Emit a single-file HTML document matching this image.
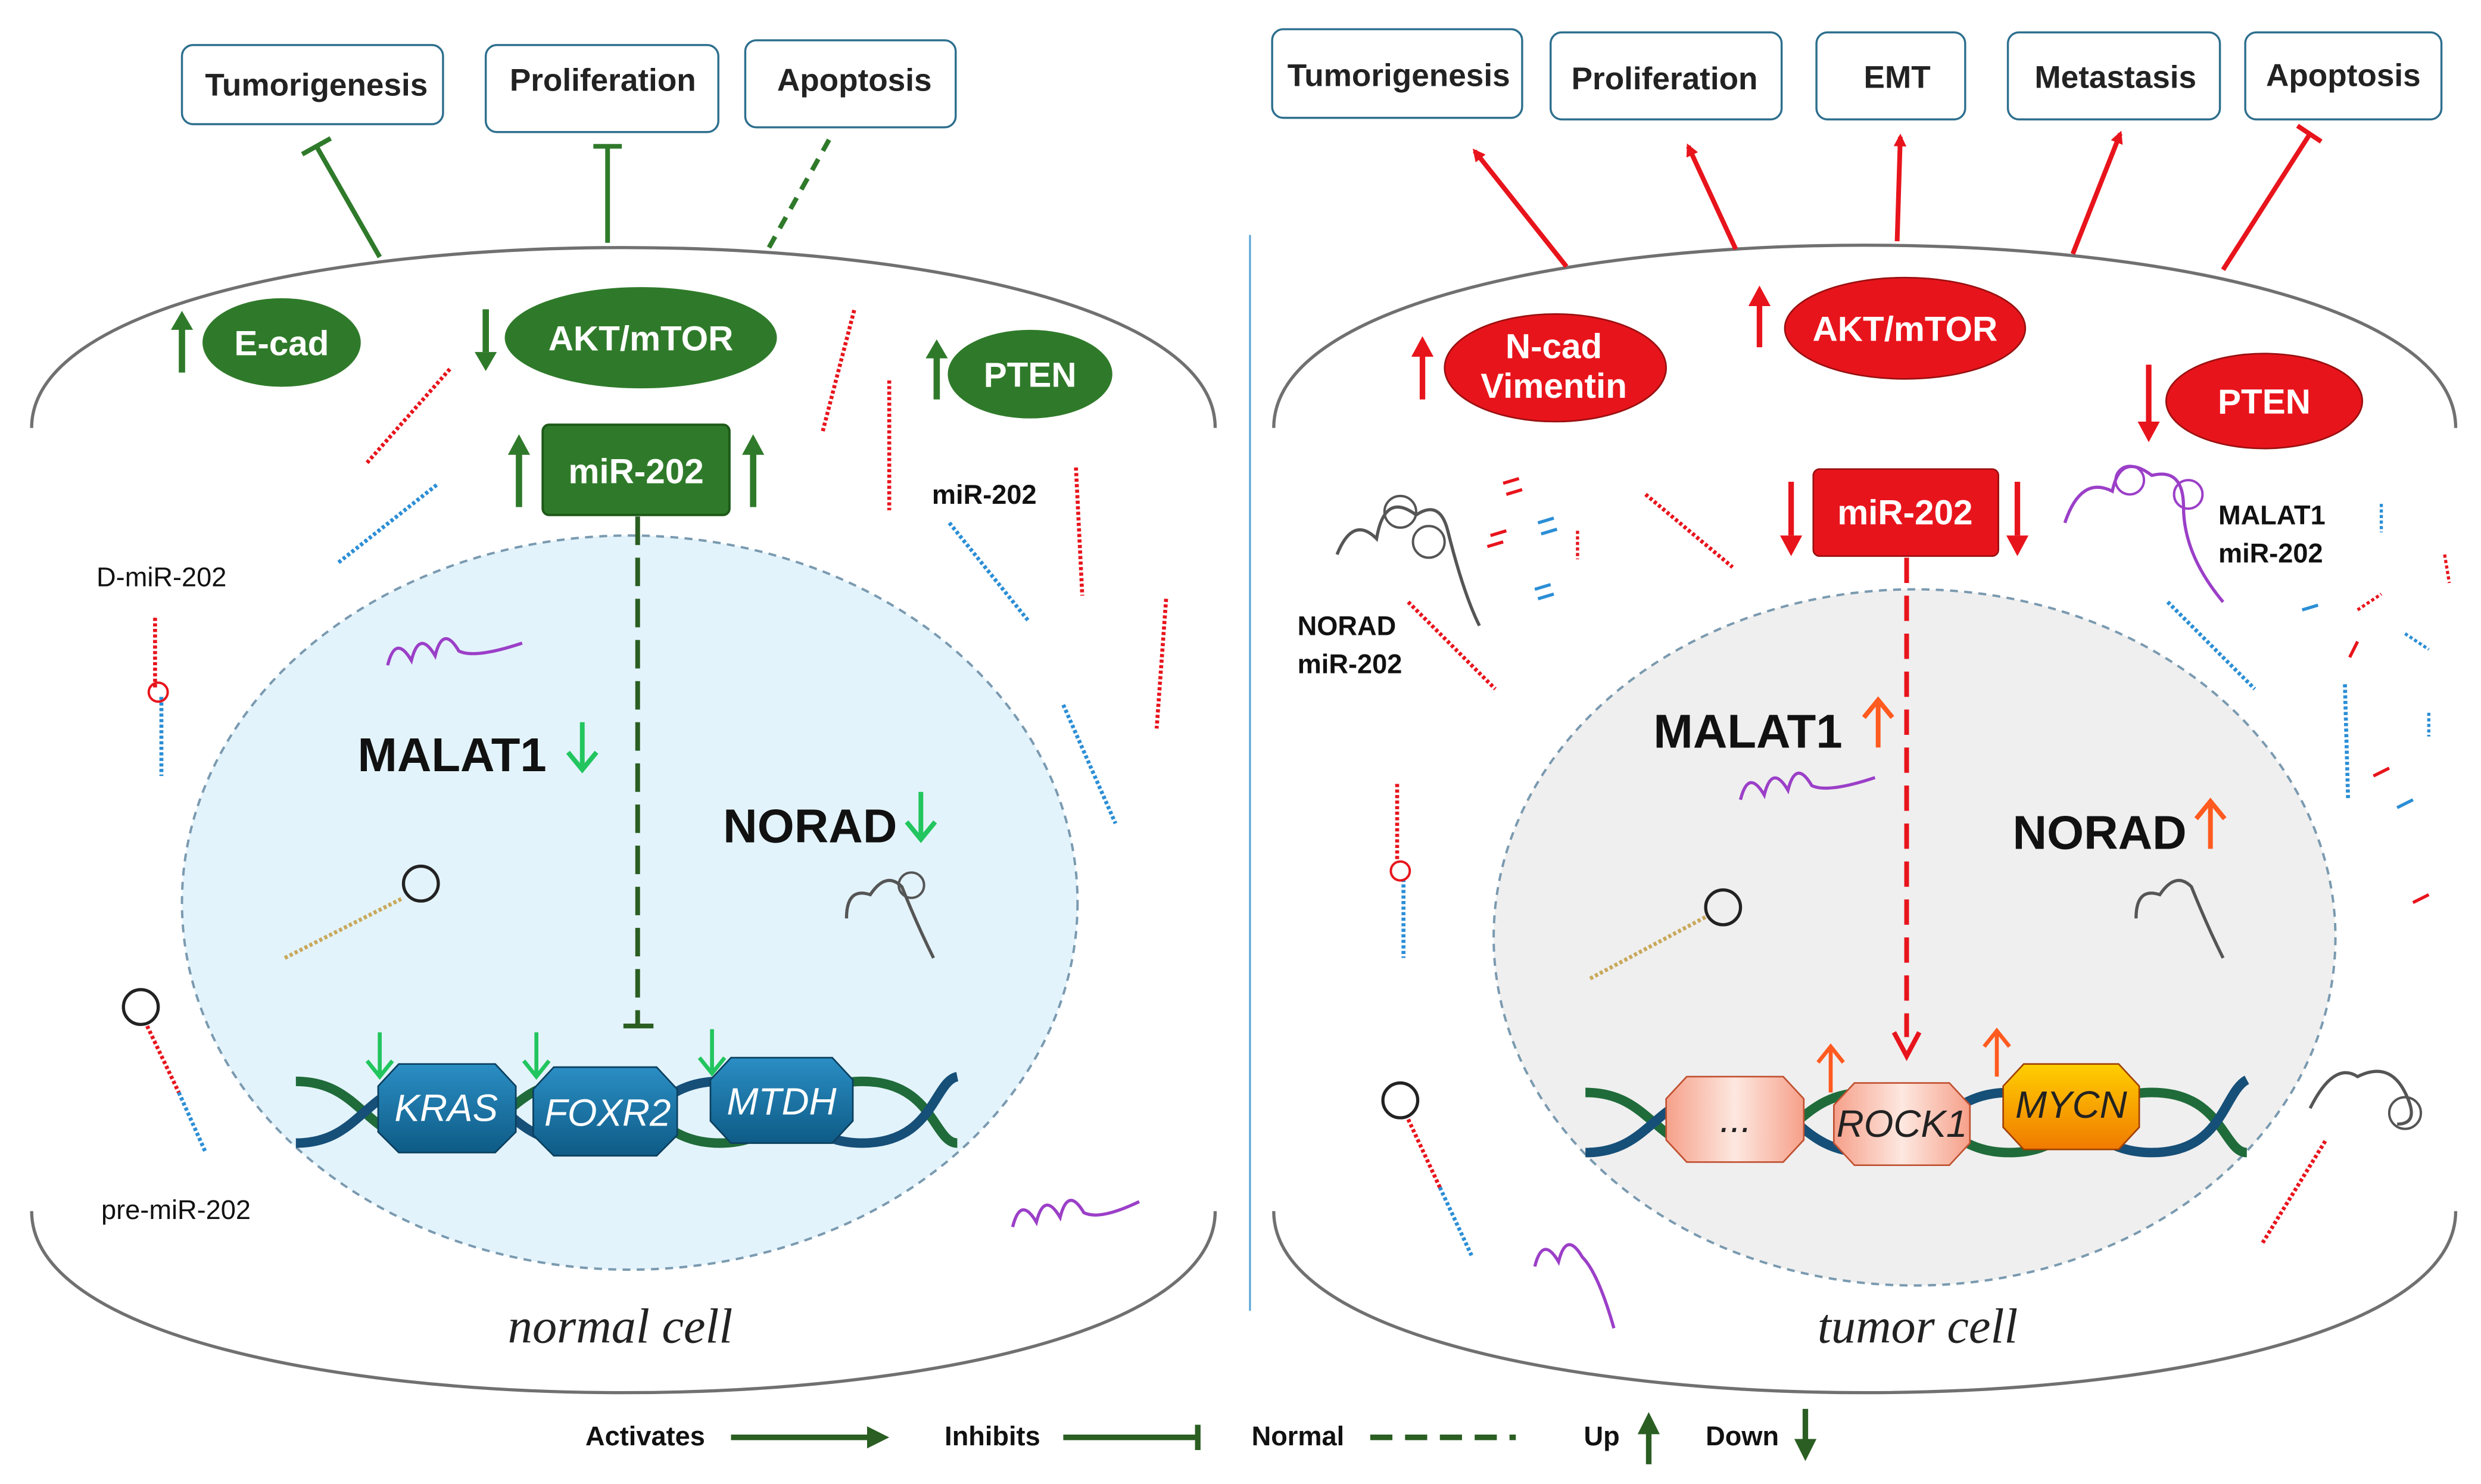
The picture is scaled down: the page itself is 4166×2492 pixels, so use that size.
<!DOCTYPE html>
<html><head><meta charset="utf-8"><style>
html,body{margin:0;padding:0;background:#fff;}
svg{display:block;}
text{font-family:"Liberation Sans",sans-serif;}
text.serif{font-family:"Liberation Serif",serif;}
</style></head><body>
<svg width="4166" height="2492" viewBox="0 0 1568 937" xmlns="http://www.w3.org/2000/svg">
<defs>
<marker id="ar" markerWidth="8" markerHeight="8" refX="6" refY="4" orient="auto" markerUnits="userSpaceOnUse"><path d="M0,0 L8,4 L0,8 z" fill="#e8141c"/></marker>
<linearGradient id="pk" x1="0" x2="1"><stop offset="0" stop-color="#f6a08a"/><stop offset="0.5" stop-color="#fde8e0"/><stop offset="1" stop-color="#f6a08a"/></linearGradient>
<linearGradient id="yo" x1="0" y1="0" x2="0" y2="1"><stop offset="0" stop-color="#ffcf00"/><stop offset="1" stop-color="#f07a00"/></linearGradient>
<linearGradient id="bl" x1="0" y1="0" x2="0" y2="1"><stop offset="0" stop-color="#2b8ec4"/><stop offset="1" stop-color="#0e5b86"/></linearGradient>
</defs>

<line x1="790" y1="148" x2="790" y2="828" stroke="#5aa6d6" stroke-width="1.2"/>

<path d="M20,270 C20,118 768,118 768,270" fill="none" stroke="#707070" stroke-width="2"/>
<path d="M20,765 C20,918 768,918 768,765" fill="none" stroke="#707070" stroke-width="2"/>
<ellipse cx="398" cy="570" rx="283" ry="232" fill="#e3f3fb" stroke="#7a9ab0" stroke-width="1.5" stroke-dasharray="5,4"/>

<path d="M805,270 C805,116 1552,116 1552,270" fill="none" stroke="#707070" stroke-width="2"/>
<path d="M805,765 C805,918 1552,918 1552,765" fill="none" stroke="#707070" stroke-width="2"/>
<ellipse cx="1210" cy="592" rx="266" ry="220" fill="#efefef" stroke="#7a9ab0" stroke-width="1.5" stroke-dasharray="5,4"/>

<g fill="#fff" stroke="#2e6f8e" stroke-width="1.3">
<rect x="115" y="28" width="165" height="50" rx="7"/><rect x="307" y="28" width="147" height="55" rx="7"/><rect x="471" y="25" width="133" height="55" rx="7"/>
<rect x="804" y="18" width="158" height="56" rx="7"/><rect x="980" y="20" width="146" height="55" rx="7"/><rect x="1148" y="20" width="94" height="55" rx="7"/><rect x="1269" y="20" width="134" height="55" rx="7"/><rect x="1419" y="20" width="124" height="55" rx="7"/>
</g>
<g fill="#222" font-weight="bold" font-size="20" text-anchor="middle">
<text x="200" y="60">Tumorigenesis</text><text x="381" y="57">Proliferation</text><text x="540" y="57">Apoptosis</text>
<text x="884" y="54">Tumorigenesis</text><text x="1052" y="56">Proliferation</text><text x="1199" y="55">EMT</text><text x="1337" y="55">Metastasis</text><text x="1481" y="54">Apoptosis</text>
</g>

<g stroke="#2f7a2a" stroke-width="3" fill="none">
<line x1="240" y1="162" x2="200" y2="92"/><line x1="191" y1="97" x2="209" y2="87"/>
<line x1="384" y1="153" x2="384" y2="92"/><line x1="375" y1="92" x2="393" y2="92"/>
<line x1="486" y1="156" x2="525" y2="86" stroke-dasharray="8,6"/>
</g>
<g stroke="#e8141c" stroke-width="3" fill="none">
<line x1="990" y1="168" x2="932" y2="95" marker-end="url(#ar)"/>
<line x1="1097" y1="157" x2="1067" y2="92" marker-end="url(#ar)"/>
<line x1="1199" y1="152" x2="1201" y2="86" marker-end="url(#ar)"/>
<line x1="1310" y1="160" x2="1340" y2="84" marker-end="url(#ar)"/>
<line x1="1405" y1="170" x2="1460" y2="84"/><line x1="1452" y1="79" x2="1467" y2="89"/>
</g>

<g fill="#2f7a2a"><ellipse cx="178" cy="216" rx="50" ry="28"/><ellipse cx="405" cy="213" rx="86" ry="32"/><ellipse cx="651" cy="236" rx="52" ry="28"/>
<rect x="343" y="268" width="118" height="57" rx="4" stroke="#1d5a18" stroke-width="1.5"/></g>
<g fill="#fff" font-weight="bold" font-size="22" text-anchor="middle"><text x="178" y="224">E-cad</text><text x="405" y="221">AKT/mTOR</text><text x="651" y="244">PTEN</text><text x="402" y="305">miR-202</text></g>
<g stroke="#2f7a2a" stroke-width="4" fill="#2f7a2a">
<line x1="115" y1="235" x2="115" y2="207"/><path d="M108,208 L115,196 L122,208z" stroke="none"/>
<line x1="307" y1="195" x2="307" y2="222"/><path d="M300,222 L307,234 L314,222z" stroke="none"/>
<line x1="592" y1="252" x2="592" y2="225"/><path d="M585,226 L592,214 L599,226z" stroke="none"/>
<line x1="328" y1="320" x2="328" y2="286"/><path d="M321,287 L328,274 L335,287z" stroke="none"/>
<line x1="476" y1="320" x2="476" y2="286"/><path d="M469,287 L476,274 L483,287z" stroke="none"/>
</g>
<line x1="403" y1="326" x2="403" y2="648" stroke="#2a5e22" stroke-width="3" stroke-dasharray="18,8"/>
<line x1="394" y1="648" x2="413" y2="648" stroke="#2a5e22" stroke-width="3"/>

<g fill="#e8141c" stroke="#9a1010" stroke-width="1"><ellipse cx="983" cy="232" rx="70" ry="34"/><ellipse cx="1204" cy="207" rx="76" ry="32"/><ellipse cx="1431" cy="253" rx="62" ry="30"/>
<rect x="1146" y="296" width="117" height="55" rx="4"/></g>
<g fill="#fff" font-weight="bold" font-size="22" text-anchor="middle"><text x="982" y="226">N-cad</text><text x="982" y="251">Vimentin</text><text x="1204" y="215">AKT/mTOR</text><text x="1431" y="261">PTEN</text><text x="1204" y="331">miR-202</text></g>
<g stroke="#e8141c" stroke-width="3.5" fill="#e8141c">
<line x1="899" y1="252" x2="899" y2="224"/><path d="M892,225 L899,212 L906,225z" stroke="none"/>
<line x1="1112" y1="219" x2="1112" y2="192"/><path d="M1105,193 L1112,180 L1119,193z" stroke="none"/>
<line x1="1358" y1="230" x2="1358" y2="266"/><path d="M1351,266 L1358,279 L1365,266z" stroke="none"/>
<line x1="1132" y1="304" x2="1132" y2="338"/><path d="M1125,338 L1132,351 L1139,338z" stroke="none"/>
<line x1="1275" y1="304" x2="1275" y2="338"/><path d="M1268,338 L1275,351 L1282,338z" stroke="none"/>
</g>
<line x1="1205" y1="352" x2="1205" y2="655" stroke="#e8141c" stroke-width="3" stroke-dasharray="16,8"/>
<path d="M1197,652 L1205,667 L1213,652" fill="none" stroke="#e8141c" stroke-width="3"/>

<g fill="none" stroke-width="6">
<path d="M187,683 C230,683 230,722 275,722 S320,683 365,683 S410,722 455,722 S500,683 545,683 S590,722 605,722" stroke="#1f6b3a"/>
<path d="M187,722 C230,722 230,683 275,683 S320,722 365,722 S410,683 455,683 S500,722 545,722 S590,683 605,680" stroke="#164f78"/>
</g>
<g fill="url(#bl)" stroke="#0b3f5e" stroke-width="1">
<polygon points="252,672 313,672 326,686 326,715 313,728 252,728 239,715 239,686"/>
<polygon points="350,674 415,674 428,688 428,717 415,730 350,730 337,717 337,688"/>
<polygon points="462,668 526,668 539,682 539,708 526,722 462,722 449,708 449,682"/>
</g>
<g fill="#fff" font-style="italic" font-size="24" text-anchor="middle"><text x="282" y="708">KRAS</text><text x="384" y="711">FOXR2</text><text x="494" y="704">MTDH</text></g>
<g stroke="#22c55e" stroke-width="2.5" fill="none">
<path d="M240,652 V678 M232,670 L240,680 L248,670"/><path d="M339,652 V678 M331,670 L339,680 L347,670"/><path d="M450,650 V676 M442,668 L450,678 L458,668"/>
</g>

<g fill="none" stroke-width="6">
<path d="M1002,690 C1045,690 1045,728 1090,728 S1135,690 1180,690 S1225,728 1270,728 S1315,690 1360,690 S1405,728 1420,728" stroke="#1f6b3a"/>
<path d="M1002,728 C1045,728 1045,690 1090,690 S1135,728 1180,728 S1225,690 1270,690 S1315,728 1360,728 S1405,690 1420,682" stroke="#164f78"/>
</g>
<polygon points="1066,680 1127,680 1140,694 1140,720 1127,734 1066,734 1053,720 1053,694" fill="url(#pk)" stroke="#c05030"/>
<polygon points="1172,684 1232,684 1245,698 1245,722 1232,736 1172,736 1159,722 1159,698" fill="url(#pk)" stroke="#c05030"/>
<polygon points="1279,672 1339,672 1352,686 1352,712 1339,726 1279,726 1266,712 1266,686" fill="url(#yo)" stroke="#a04000"/>
<g font-style="italic" font-size="24" text-anchor="middle" fill="#222"><text x="1097" y="715">...</text><text x="1202" y="718">ROCK1</text><text x="1309" y="706">MYCN</text></g>
<g stroke="#ff5a1f" stroke-width="2.5" fill="none">
<path d="M1157,690 V662 M1149,671 L1157,661 L1165,671"/><path d="M1262,680 V652 M1254,661 L1262,651 L1270,661"/>
</g>

<g font-size="30" fill="#111" font-weight="bold">
<text x="226" y="487">MALAT1</text><text x="457" y="532">NORAD</text>
<text x="1045" y="472">MALAT1</text><text x="1272" y="536">NORAD</text>
</g>
<g stroke="#22c55e" stroke-width="3" fill="none"><path d="M368,456 V484 M359,475 L368,486 L377,475"/><path d="M582,500 V528 M573,519 L582,530 L591,519"/></g>
<g stroke="#ff5a1f" stroke-width="3" fill="none"><path d="M1187,472 V444 M1178,453 L1187,442 L1196,453"/><path d="M1397,536 V508 M1388,517 L1397,506 L1406,517"/></g>

<g font-size="17" fill="#111">
<text x="61" y="370">D-miR-202</text><text x="64" y="770">pre-miR-202</text><text x="589" y="318" font-weight="bold">miR-202</text>
<text x="820" y="401" font-weight="bold">NORAD</text><text x="820" y="425" font-weight="bold">miR-202</text>
<text x="1402" y="331" font-weight="bold">MALAT1</text><text x="1402" y="355" font-weight="bold">miR-202</text>
</g>
<g font-style="italic" font-size="31" fill="#222" text-anchor="middle">
<text class="serif" x="392" y="848">normal cell</text><text class="serif" x="1212" y="848">tumor cell</text></g>

<g fill="none" stroke-width="2.5">
<line x1="232" y1="292" x2="285" y2="232" stroke="#e8141c" stroke-dasharray="2,1.5"/>
<line x1="214" y1="355" x2="276" y2="306" stroke="#2b8ed6" stroke-dasharray="2,1.5"/>
<line x1="520" y1="272" x2="540" y2="195" stroke="#e8141c" stroke-dasharray="2,1.5"/>
<line x1="562" y1="240" x2="562" y2="322" stroke="#e8141c" stroke-dasharray="2,1.5"/>
<line x1="600" y1="330" x2="650" y2="392" stroke="#2b8ed6" stroke-dasharray="2,1.5"/>
<line x1="680" y1="295" x2="684" y2="376" stroke="#e8141c" stroke-dasharray="2,1.5"/>
<line x1="737" y1="378" x2="731" y2="460" stroke="#e8141c" stroke-dasharray="2,1.5"/>
<line x1="672" y1="445" x2="705" y2="520" stroke="#2b8ed6" stroke-dasharray="2,1.5"/>
<line x1="98" y1="390" x2="98" y2="435" stroke="#e8141c" stroke-dasharray="2,1.5"/>
<line x1="102" y1="440" x2="102" y2="490" stroke="#2b8ed6" stroke-dasharray="2,1.5"/>
<circle cx="100" cy="437" r="6" stroke="#e8141c" stroke-width="1.5"/>
<circle cx="89" cy="636" r="11" stroke="#222" stroke-width="2"/>
<line x1="93" y1="648" x2="113" y2="690" stroke="#e8141c" stroke-dasharray="2,1.5"/>
<line x1="113" y1="690" x2="130" y2="728" stroke="#2b8ed6" stroke-dasharray="2,1.5"/>
<line x1="180" y1="605" x2="255" y2="567" stroke="#c9a85a" stroke-dasharray="2,1.5"/>
<circle cx="266" cy="558" r="11" stroke="#222" stroke-width="2"/>
<path d="M245,420 q5,-20 15,-3 q5,-20 15,-3 q5,-20 15,-3 q10,5 40,-5" stroke="#9b3fc8" stroke-width="2"/>
<path d="M535,580 q0,-20 15,-15 q10,-15 20,-5 q10,25 20,45" stroke="#555" stroke-width="2"/>
<circle cx="576" cy="559" r="8" stroke="#555" stroke-width="1.5"/>
<path d="M640,775 q5,-20 15,-3 q5,-20 15,-3 q5,-20 15,-3 q10,5 35,-7" stroke="#9b3fc8" stroke-width="2"/>
<path d="M845,350 q10,-25 25,-10 q5,-30 25,-15 q15,-10 20,10 q10,40 20,60" stroke="#555" stroke-width="2"/>
<circle cx="885" cy="323" r="10" stroke="#555" stroke-width="1.5"/><circle cx="903" cy="342" r="10" stroke="#555" stroke-width="1.5"/>
<line x1="890" y1="380" x2="945" y2="435" stroke="#e8141c" stroke-dasharray="2,1.5"/>
<line x1="1040" y1="312" x2="1095" y2="358" stroke="#e8141c" stroke-dasharray="2,1.5"/>
<path d="M1305,330 q10,-30 30,-20 q5,-25 25,-10 q20,-5 20,20 q0,30 25,60" stroke="#9b3fc8" stroke-width="2"/>
<circle cx="1346" cy="303" r="9" stroke="#9b3fc8" stroke-width="1.5"/><circle cx="1383" cy="312" r="9" stroke="#9b3fc8" stroke-width="1.5"/>
<line x1="1370" y1="380" x2="1425" y2="435" stroke="#2b8ed6" stroke-dasharray="2,1.5"/>
<line x1="883" y1="495" x2="883" y2="545" stroke="#e8141c" stroke-dasharray="2,1.5"/>
<line x1="887" y1="555" x2="887" y2="605" stroke="#2b8ed6" stroke-dasharray="2,1.5"/>
<circle cx="885" cy="550" r="6" stroke="#e8141c" stroke-width="1.5"/>
<line x1="1482" y1="432" x2="1484" y2="505" stroke="#2b8ed6" stroke-dasharray="2,1.5"/>
<circle cx="885" cy="695" r="11" stroke="#222" stroke-width="2"/>
<line x1="890" y1="707" x2="910" y2="750" stroke="#e8141c" stroke-dasharray="2,1.5"/>
<line x1="910" y1="750" x2="930" y2="793" stroke="#2b8ed6" stroke-dasharray="2,1.5"/>
<line x1="1005" y1="618" x2="1080" y2="578" stroke="#c9a85a" stroke-dasharray="2,1.5"/>
<circle cx="1089" cy="573" r="11" stroke="#222" stroke-width="2"/>
<path d="M1100,505 q5,-20 15,-3 q5,-20 15,-3 q5,-20 15,-3 q10,5 40,-5" stroke="#9b3fc8" stroke-width="2"/>
<path d="M1350,580 q0,-20 15,-15 q10,-15 20,-5 q10,25 20,45" stroke="#555" stroke-width="2"/>
<path d="M970,800 q5,-20 15,-3 q5,-20 15,-3 q10,10 20,45" stroke="#9b3fc8" stroke-width="2"/>
<path d="M1460,700 q15,-30 30,-20 q20,-10 30,10 q10,20 -5,20" stroke="#555" stroke-width="2"/>
<circle cx="1520" cy="703" r="10" stroke="#555" stroke-width="1.5"/>
<line x1="1430" y1="785" x2="1470" y2="720" stroke="#e8141c" stroke-dasharray="2,1.5"/>
</g>
<g stroke-width="2" fill="none">
<path d="M950,305 l10,-3 M952,312 l10,-3" stroke="#e8141c"/><path d="M940,345 l10,-3 M942,338 l10,-3" stroke="#e8141c"/>
<path d="M972,330 l10,-3 M974,337 l10,-3" stroke="#2b8ed6"/><path d="M970,372 l10,-3 M972,378 l10,-3" stroke="#2b8ed6"/>
<path d="M997,335 v18" stroke="#e8141c" stroke-dasharray="2,1.5"/><path d="M1505,318 v18" stroke="#2b8ed6" stroke-dasharray="2,1.5"/>
<path d="M1545,350 l3,18" stroke="#e8141c" stroke-dasharray="2,1.5"/><path d="M1455,385 l10,-3" stroke="#2b8ed6"/>
<path d="M1490,385 l15,-10" stroke="#e8141c" stroke-dasharray="2,1.5"/><path d="M1520,400 l15,10" stroke="#2b8ed6" stroke-dasharray="2,1.5"/>
<path d="M1485,415 l5,-10" stroke="#e8141c"/><path d="M1535,450 v15" stroke="#2b8ed6" stroke-dasharray="2,1.5"/>
<path d="M1500,490 l10,-5" stroke="#e8141c"/><path d="M1515,510 l10,-5" stroke="#2b8ed6"/><path d="M1525,570 l10,-5" stroke="#e8141c"/>
</g>

<g font-weight="bold" font-size="17" fill="#111">
<text x="370" y="913">Activates</text><text x="597" y="913">Inhibits</text><text x="791" y="913">Normal</text><text x="1001" y="913">Up</text><text x="1078" y="913">Down</text>
</g>
<g stroke="#2a5e22" stroke-width="3.5" fill="#2a5e22">
<line x1="462" y1="908" x2="552" y2="908"/><path d="M548,901 L562,908 L548,915z" stroke="none"/>
<line x1="672" y1="908" x2="757" y2="908"/><line x1="757" y1="900" x2="757" y2="916"/>
<line x1="866" y1="908" x2="958" y2="908" stroke-dasharray="14,8"/>
<line x1="1042" y1="925" x2="1042" y2="905"/><path d="M1035,906 L1042,892 L1049,906z" stroke="none"/>
<line x1="1141" y1="890" x2="1141" y2="910"/><path d="M1134,909 L1141,923 L1148,909z" stroke="none"/>
</g>
</svg>
</body></html>
